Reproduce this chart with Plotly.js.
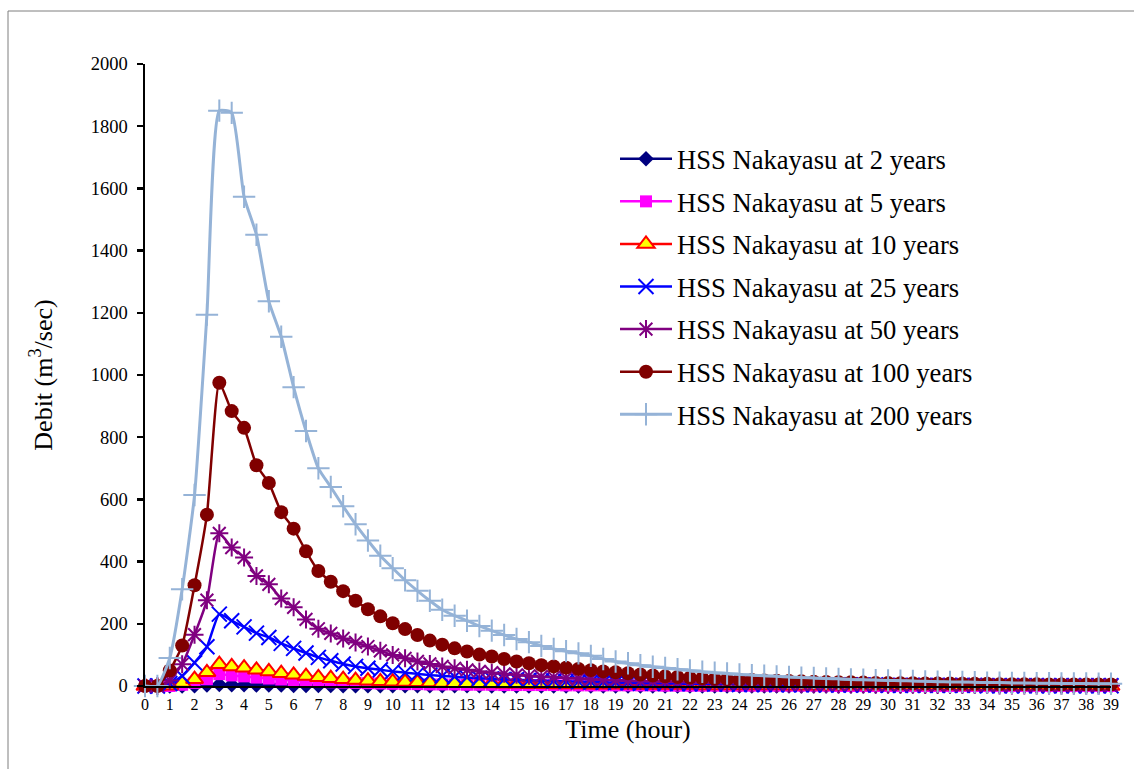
<!DOCTYPE html>
<html>
<head>
<meta charset="utf-8">
<script src="https://cdn.plot.ly/plotly-3.0.1.min.js"></script>
<style>
  html, body { margin: 0; padding: 0; background: #ffffff; }
  #chart { width: 1134px; height: 769px; }
</style>
</head>
<body>
<div id="chart"></div>
<script>
// Time (hour), half-hour steps
const hours = [
  0,0.5,1,1.5,2,2.5,3,3.5,4,4.5,
  5,5.5,6,6.5,7,7.5,8,8.5,9,9.5,
  10,10.5,11,11.5,12,12.5,13,13.5,14,14.5,
  15,15.5,16,16.5,17,17.5,18,18.5,19,19.5,
  20,20.5,21,21.5,22,22.5,23,23.5,24,24.5,
  25,25.5,26,26.5,27,27.5,28,28.5,29,29.5,
  30,30.5,31,31.5,32,32.5,33,33.5,34,34.5,
  35,35.5,36,36.5,37,37.5,38,38.5,39
];

const q2 = [
  0,0,0,0,1,3,5,4,4,3,
  3,3,2,2,2,2,1,1,1,1,
  1,1,1,1,1,1,1,1,0,0,
  0,0,0,0,0,0,0,0,0,0,
  0,0,0,0,0,0,0,0,0,0,
  0,0,0,0,0,0,0,0,0,0,
  0,0,0,0,0,0,0,0,0,0,
  0,0,0,0,0,0,0,0,0
];
const q5 = [
  0,0,0,4,10,22,38,34,31,27,
  24,21,18,16,14,12,11,10,9,8,
  7,6,6,5,5,5,4,4,4,3,
  3,3,3,3,2,2,2,2,2,2,
  2,2,1,1,1,1,1,1,1,1,
  1,1,1,1,1,1,0,0,0,0,
  0,0,0,0,0,0,0,0,0,0,
  0,0,0,0,0,0,0,0,0
];
const q10 = [
  0,0,1,10,22,44,70,63,59,52,
  47,41,36,32,28,25,22,19,17,15,
  14,13,12,11,10,9,9,8,8,7,
  7,6,6,5,5,5,4,4,4,4,
  3,3,3,3,3,2,2,2,2,2,
  2,2,1,1,1,1,1,1,1,1,
  1,1,1,1,1,1,0,0,0,0,
  0,0,0,0,0,0,0,0,0
];
const q25 = [
  0,0,8,32,75,126,231,210,190,170,
  156,137,121,106,92,81,71,63,57,52,
  47,43,39,35,32,30,27,25,23,21,
  20,18,17,16,15,14,13,12,11,10,
  9,9,8,8,7,7,6,6,5,5,
  5,4,4,4,4,3,3,3,3,3,
  2,2,2,2,2,2,2,2,1,1,
  1,1,1,1,1,1,1,1,1
];
const q50 = [
  0,0,18,70,165,276,491,445,413,354,
  327,281,253,214,184,169,153,140,127,113,
  100,89,79,71,63,57,52,47,43,39,
  36,33,30,28,26,24,22,20,19,17,
  16,15,14,13,12,11,10,10,9,8,
  8,7,7,6,6,6,5,5,5,4,
  4,4,4,3,3,3,3,3,3,2,
  2,2,2,2,2,2,2,2,2
];
const q100 = [
  0,0,50,130,324,551,975,884,830,710,
  653,559,506,433,370,335,305,274,247,224,
  202,183,164,146,133,121,111,101,95,87,
  79,73,67,63,59,55,51,47,44,41,
  37,34,31,29,27,25,23,22,20,19,
  18,17,16,15,14,13,12,12,11,10,
  10,9,9,8,8,8,7,7,7,6,
  6,6,6,5,5,5,5,5,5
];
const q200 = [
  0,0,90,311,614,1194,1850,1843,1573,1451,
  1237,1123,961,820,700,640,578,520,468,419,
  379,340,306,274,245,226,210,193,178,164,
  151,141,129,119,112,105,97,87,79,73,
  67,62,58,54,50,46,43,40,37,35,
  33,31,29,27,26,24,23,21,20,19,
  18,17,16,15,14,13,13,12,11,11,
  10,10,9,9,8,8,8,7,7
];

const seriesNames = [
  "HSS Nakayasu at 2 years",
  "HSS Nakayasu at 5 years",
  "HSS Nakayasu at 10 years",
  "HSS Nakayasu at 25 years",
  "HSS Nakayasu at 50 years",
  "HSS Nakayasu at 100 years",
  "HSS Nakayasu at 200 years"
];
const xTickVals = [0,1,2,3,4,5,6,7,8,9,10,11,12,13,14,15,16,17,18,19,20,21,22,23,24,25,26,27,28,29,30,31,32,33,34,35,36,37,38,39];
const yTickVals = [0,200,400,600,800,1000,1200,1400,1600,1800,2000];

const serif = "'Liberation Serif', 'Times New Roman', serif";

function mk(y, name, lineColor, marker, lw) {
  return {
    x: hours, y: y, name: name, type: 'scatter', mode: 'lines+markers',
    line: { color: lineColor, width: lw || 2.5, shape: 'spline', smoothing: 0.5 },
    marker: marker, cliponaxis: false, legendgroup: name
  };
}

const traces = [
  mk(q2, seriesNames[0], '#000080', { symbol: 'diamond', size: 12, color: '#000080' }),
  mk(q5, seriesNames[1], '#FF00FF', { symbol: 'square', size: 12, color: '#FF00FF' }),
  mk(q10, seriesNames[2], '#FF0000', { symbol: 'triangle-up', size: 15, color: '#FFFF00', line: { color: '#FF0000', width: 2 } }),
  mk(q25, seriesNames[3], '#0000FF', { symbol: 'x-thin-open', size: 15, color: '#0000FF', line: { color: '#0000FF', width: 2 } }),
  mk(q50, seriesNames[4], '#800080', { symbol: 'asterisk-open', size: 15, color: '#800080', line: { color: '#800080', width: 2 } }),
  mk(q100, seriesNames[5], '#800000', { symbol: 'circle', size: 14, color: '#800000' }),
  mk(q200, seriesNames[6], '#95B3D7', { symbol: 'cross-thin-open', size: 16, color: '#95B3D7', line: { color: '#95B3D7', width: 2 } }, 3)
];

const L = 145, R = 23, T = 64, B = 83;
const W = 1134, H = 769;
const pw = W - L - R, ph = H - T - B;
function px2x(p) { return (p - L) / pw; }
function py2y(p) { return (H - B - p) / ph; }

const layout = {
  width: W, height: H,
  margin: { l: L, r: R, t: T, b: B, pad: 0 },
  paper_bgcolor: '#ffffff', plot_bgcolor: '#ffffff',
  font: { family: serif, color: '#000000' },
  showlegend: true,
  legend: {
    x: px2x(615), y: py2y(135), xanchor: 'left', yanchor: 'top',
    font: { family: serif, size: 26.6, color: '#000000' },
    bgcolor: 'rgba(0,0,0,0)', itemwidth: 52, tracegroupgap: 5,
    traceorder: 'grouped'
  },
  xaxis: {
    range: [0, 39], tickvals: xTickVals, ticktext: xTickVals.map(String),
    showgrid: false, zeroline: false, showline: true, linecolor: '#000000', linewidth: 1.5,
    ticks: '', tickfont: { family: serif, size: 16, color: '#000000' },
    ticklabelstandoff: 3,
    title: { text: 'Time (hour)', font: { family: serif, size: 26, color: '#000000' }, standoff: 8 },
    automargin: false
  },
  yaxis: {
    range: [0, 2000], tickvals: yTickVals, ticktext: yTickVals.map(String),
    showgrid: false, zeroline: false, showline: true, linecolor: '#000000', linewidth: 2.5,
    ticks: 'outside', ticklen: 6, tickwidth: 2.5, tickcolor: '#000000',
    tickfont: { family: serif, size: 18.5, color: '#000000' },
    ticklabelstandoff: 5,
    title: { text: 'Debit (m<sup>3</sup>/sec)', font: { family: serif, size: 26, color: '#000000' }, standoff: 31 },
    automargin: false
  },
  shapes: [{
    type: 'rect', xref: 'paper', yref: 'paper',
    x0: px2x(8), x1: px2x(1140), y0: py2y(780), y1: py2y(11),
    line: { color: '#7F7F7F', width: 1 }, fillcolor: 'rgba(0,0,0,0)', layer: 'below'
  }]
};

Plotly.newPlot('chart', traces, layout, { staticPlot: true, displayModeBar: false });
</script>
</body>
</html>
